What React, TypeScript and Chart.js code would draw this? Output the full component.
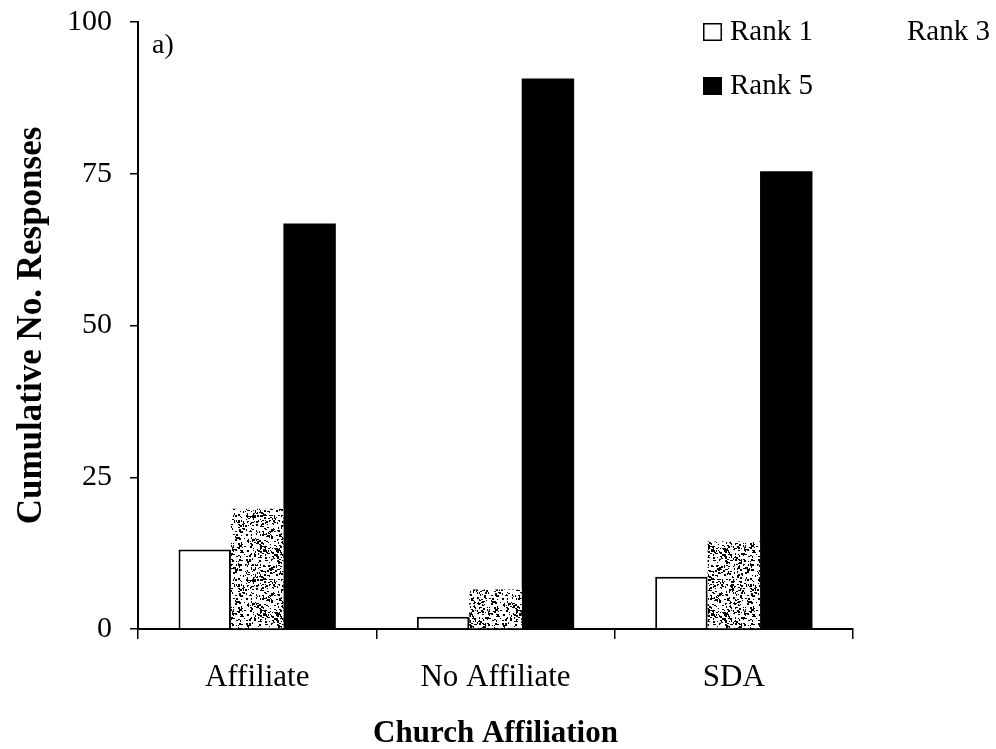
import React, { useEffect, useRef } from "react";
import { Chart, registerables } from "chart.js";

Chart.register(...registerables);

const categories = ["Affiliate", "No Affiliate", "SDA"];
const seriesLabels = ["Rank 1", "Rank 3", "Rank 5"];
const rank1 = [13.1, 2.0, 8.6];
const rank3 = [19.8, 6.5, 14.4];
const rank5 = [66.8, 90.7, 75.4];
const yTickValues = [0, 25, 50, 75, 100];
const panelLabel = "a)";
const xTitle = "Church Affiliation";
const yTitle = "Cumulative No. Responses";

const SERIF = '"Liberation Serif", "Times New Roman", serif';

function makeStipple(ctx: CanvasRenderingContext2D, count: number, color: string, seed: number) {
  const size = 64;
  const c = document.createElement("canvas");
  c.width = size;
  c.height = size;
  const g = c.getContext("2d")!;
  g.fillStyle = "#ffffff";
  g.fillRect(0, 0, size, size);
  g.fillStyle = color;
  let s = seed;
  const next = () => {
    s = (s * 16807) % 2147483647;
    return s / 2147483647;
  };
  for (let i = 0; i < count; i++) {
    const x = Math.floor(next() * size);
    const y = Math.floor(next() * size);
    const w = next() < 0.5 ? 1 : 2;
    const h = next() < 0.5 ? 1 : 2;
    g.fillRect(x, y, w, h);
  }
  return ctx.createPattern(c, "repeat")!;
}

export default function App() {
  const ref = useRef<HTMLCanvasElement | null>(null);

  useEffect(() => {
    document.body.style.margin = "0";
    const canvas = ref.current!;
    const ctx = canvas.getContext("2d")!;
    const stipple = makeStipple(ctx, 600, "#000000", 987654);
    const faintStipple = makeStipple(ctx, 60, "#a0a0a0", 4242);

    const legendItems = [
      { x: 703, y: 23, w: 19, h: 18, tx: 730, ty: 32 },
      { x: 880, y: 23, w: 19, h: 18, tx: 907, ty: 32 },
      { x: 703, y: 77, w: 19, h: 18, tx: 730, ty: 86 },
    ];

    const overlay = {
      id: "overlay",
      afterDraw(chart: any) {
        const c = chart.ctx;
        c.save();
        c.font = `28px ${SERIF}`;
        c.fillStyle = "#000";
        c.textBaseline = "middle";
        c.textAlign = "left";
        c.fillText(panelLabel, 152, 46);
        chart.data.datasets.forEach((ds: any, i: number) => {
          const it = legendItems[i];
          if (i === 0) {
            c.fillStyle = "#fff";
            c.fillRect(it.x, it.y, it.w, it.h);
            c.strokeStyle = "#000";
            c.lineWidth = 1.5;
            c.strokeRect(it.x + 0.75, it.y + 0.75, it.w - 1.5, it.h - 1.5);
          } else if (i === 1) {
            c.fillStyle = faintStipple;
            c.fillRect(it.x, it.y, it.w, it.h);
          } else {
            c.fillStyle = "#000";
            c.fillRect(it.x, it.y, it.w, it.h);
          }
          c.fillStyle = "#000";
          c.font = `29px ${SERIF}`;
          c.fillText(ds.label, it.tx, it.ty);
        });
        c.restore();
      },
    };

    const chart = new Chart(ctx, {
      type: "bar",
      data: {
        labels: categories,
        datasets: [
          {
            label: seriesLabels[0],
            data: rank1,
            backgroundColor: "#ffffff",
            borderColor: "#000000",
            borderWidth: { top: 2, left: 2, right: 2, bottom: 0 },
            borderSkipped: false,
          },
          {
            label: seriesLabels[1],
            data: rank3,
            backgroundColor: stipple as any,
            borderWidth: 0,
          },
          {
            label: seriesLabels[2],
            data: rank5,
            backgroundColor: "#000000",
            borderWidth: 0,
          },
        ],
      },
      options: {
        animation: false,
        responsive: false,
        maintainAspectRatio: false,
        datasets: {
          bar: { categoryPercentage: 0.66, barPercentage: 1 },
        },
        layout: { padding: { left: 11, right: 143, top: 22, bottom: 0 } },
        plugins: {
          legend: { display: false },
          tooltip: { enabled: false },
        },
        scales: {
          x: {
            grid: {
              display: true,
              drawOnChartArea: false,
              drawTicks: true,
              tickLength: 10,
              color: "#000",
              lineWidth: 1.5,
              offset: true,
            },
            border: { display: true, color: "#000", width: 2 },
            ticks: {
              color: "#000",
              font: { family: SERIF, size: 31 },
              padding: 20,
              maxRotation: 0,
            },
            title: {
              display: true,
              text: xTitle,
              color: "#000",
              font: { family: SERIF, size: 31, weight: "bold", lineHeight: 1.0 },
              padding: { top: 0, bottom: 0 },
            },
            afterFit(scale: any) {
              scale.height = 120;
              scale.paddingLeft = 0;
              scale.paddingRight = 0;
            },
          } as any,
          y: {
            min: 0,
            max: 100,
            afterBuildTicks(scale: any) {
              scale.ticks = yTickValues.map((v) => ({ value: v }));
            },
            grid: {
              display: true,
              drawOnChartArea: false,
              drawTicks: true,
              tickLength: 8,
              color: "#000",
              lineWidth: 1.5,
            },
            border: { display: true, color: "#000", width: 2 },
            ticks: {
              color: "#000",
              font: { family: SERIF, size: 30 },
              padding: 18,
            },
            title: {
              display: true,
              text: yTitle,
              color: "#000",
              font: { family: SERIF, size: 35, weight: "bold" },
              padding: { top: 0, bottom: 0 },
            },
            afterFit(scale: any) {
              scale.width = 127;
              scale.paddingTop = 0;
              scale.paddingBottom = 0;
            },
          },
        },
      },
      plugins: [overlay],
    });

    return () => chart.destroy();
  }, []);

  return (
    <div style={{ width: 996, height: 749, position: "relative", background: "#fff" }}>
      <canvas ref={ref} width={996} height={749} style={{ display: "block" }} />
    </div>
  );
}
